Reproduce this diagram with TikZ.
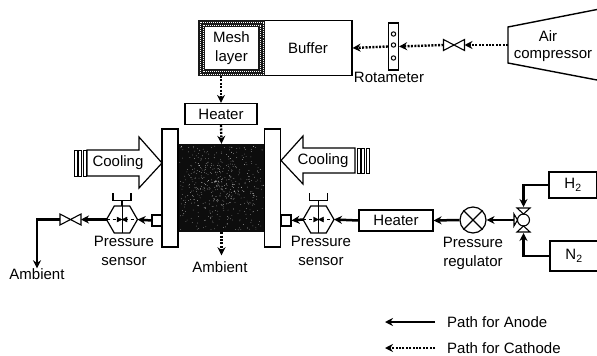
\documentclass[tikz,border=0pt]{standalone}
\usepackage{fontspec}
\setmainfont{Liberation Sans}
\usepackage{xcolor}
\usepackage{tikz}
\usetikzlibrary{positioning,arrows.meta,shapes.geometric,calc}

\begin{document}
\begin{tikzpicture}[
  x=1pt, y=-1pt,
  every node/.style={font=\fontsize{15}{19}\selectfont},
  unit/.style={rectangle, draw, line width=1.2pt, fill=white, inner sep=0pt},
  lbl/.style={inner sep=0pt, align=center},
  plate/.style={unit, minimum width=16pt, minimum height=118pt},
  stub/.style={unit, minimum width=10pt, minimum height=11pt},
  valve/.style={minimum width=21pt, minimum height=11pt, inner sep=0pt, outer sep=0pt},
  psensor/.style={regular polygon, regular polygon sides=6, draw, line width=1.2pt,
                  minimum size=31pt, inner sep=0pt, outer sep=0pt},
  anode/.style={-{Stealth[length=8pt,width=8pt]}, line width=2.5pt},
  cathode/.style={-{Stealth[length=8pt,width=8pt]}, line width=2.4pt, dash pattern=on 2pt off 1.4pt}
]
\useasboundingbox (0,0) rectangle (597,356);

% cathode side
\node[unit, minimum width=88pt, minimum height=55pt] (buffer) at (308,48) {Buffer};
\node[unit, draw=black!90, line width=7pt, minimum width=60pt, minimum height=49pt, align=center] (mesh) at (231.5,48) {Mesh\\layer};
\draw[white, line width=.4pt, dash pattern=on .5pt off 1.5pt] (199.8,21.8) rectangle (263.2,74.2);
\draw[white, line width=.4pt, dash pattern=on .5pt off 1.5pt] (202.8,24.8) rectangle (260.2,71.2);
\node[unit, minimum width=10pt, minimum height=47pt] (rota) at (393.5,46.5) {};
\foreach \y in {34,45,58} {
  \draw[line width=1pt, fill=white] (393.5,\y) circle (2.2);
}
\node[lbl] at (389,77) {Rotameter};
\node[valve] (v1) at (454,45) {};
\coordinate (aircomp) at (508,45);
\draw[line width=1.4pt] (597,9.5) -- (508,27) -- (508,63) -- (597,80);
\node[lbl] at (548,36) {Air};
\node[lbl] at (553,56) {compressor};
\node[unit, minimum width=72pt, minimum height=21pt] (heat1) at (221,114) {Heater};

% stack
\node[rectangle, fill=black!95, minimum width=87pt, minimum height=88pt, inner sep=0pt] (stack) at (221.5,188) {};
\pgfmathsetseed{11}
\foreach \i in {1,...,260} {
  \fill[white] ({180+83*rnd},{146+84*rnd}) circle (.3);
}
\foreach \i in {1,...,260} {
  \fill[white] ({178+87*(rnd+rnd)/2},{144+88*(rnd+rnd)/2}) circle (.3);
}
\node[plate] (platel) at (170,188) {};
\node[plate] (plater) at (272.5,188) {};
\node[lbl] (amb2) at (220,267) {Ambient};

% cooling
\draw[line width=1.2pt, fill=white] (87,150) -- (139,150) -- (139,137) -- (162,163) -- (139,188) -- (139,176) -- (87,176) -- cycle;
\node[lbl] at (118,163) {Cooling};
\draw[line width=1.2pt, fill=white] (355,148) -- (303,148) -- (303,136) -- (281,160.5) -- (303,184) -- (303,173) -- (355,173) -- cycle;
\node[lbl] at (323,161) {Cooling};
\foreach \x in {74,78.5,83} {
  \draw[line width=1pt] (\x,150) rectangle ++(3.4,26);
}
\foreach \x in {357,361.5,366} {
  \draw[line width=1pt] (\x,148) rectangle ++(3.4,25);
}

% anode side
\node[stub] (stubl) at (157,220.5) {};
\node[stub] (stubr) at (286,220.5) {};
\node[psensor] (psl) at (122,219.5) {};
\node[psensor] (psr) at (318.5,219.5) {};
\foreach \n in {psl,psr} {
  \draw[line width=.6pt, dashed] (\n.west) -- (\n.east);
  \draw[line width=.8pt] (\n.north) -- (\n.south);
  \draw[fill=black] ($(\n.center)+(-5,-2.5)$) -- ($(\n.center)+(5,2.5)$) -- ($(\n.center)+(5,-2.5)$) -- ($(\n.center)+(-5,2.5)$) -- cycle;
  \draw[line width=1.1pt] (\n.north) -- ++(0,-6) -- ++(-9,0) -- ++(0,-7);
  \draw[line width=1.1pt] (\n.north) ++(0,-6) -- ++(9,0) -- ++(0,-7);
}
\node[lbl] at (124,250.5) {Pressure\\sensor};
\node[lbl] at (321,250.5) {Pressure\\sensor};
\node[valve] (v2) at (70.5,219.5) {};
\node[lbl] (amb1) at (37,274) {Ambient};
\foreach \v in {v1,v2} {
  \draw[line width=1.1pt, fill=white] (\v.north west) -- (\v.south east) -- (\v.north east) -- (\v.south west) -- cycle;
}
\node[unit, minimum width=74pt, minimum height=21pt] (heat2) at (396,220.5) {Heater};
\node[circle, draw, line width=1.2pt, minimum size=26pt, inner sep=0pt] (reg) at (473,220) {};
\draw[line width=1.2pt] (reg.north west) -- (reg.south east) (reg.north east) -- (reg.south west);
\node[lbl] at (473,253.5) {Pressure\\regulator};
\node[circle, draw, line width=1.1pt, minimum size=12pt, inner sep=0pt] (tway) at (523.5,220) {};
\draw[line width=1.1pt, fill=white] (517,208) -- (530,208) -- (523.5,214) -- cycle;
\draw[line width=1.1pt, fill=white] (517,232) -- (530,232) -- (523.5,226) -- cycle;
\draw[line width=1.1pt, fill=white] (514,214) -- (514,226) -- (517.5,220) -- cycle;
\coordinate (twayt) at (523.5,207);
\coordinate (twayb) at (523.5,233);
\coordinate (twayl) at (514,220);
\node[unit, minimum width=48pt, minimum height=26pt] (htwo) at (573,185) {H\textsubscript{2}};
\node[unit, minimum width=48pt, minimum height=30pt] (ntwo) at (574,256) {N\textsubscript{2}};

% legend
\node[lbl, anchor=west] (leganode) at (447,322) {Path for Anode};
\node[lbl, anchor=west] (legcath) at (447,348) {Path for Cathode};
\coordinate (tipa) at (385,322);
\coordinate (tipc) at (385,348);

% paths
\foreach \i/\j in {aircomp/v1.east, v1.west/rota.east, rota.west/buffer.east, heat1.south/stack.north} {
  \draw[cathode] (\i) -- (\j);
}
\draw[cathode] (heat1.north |- mesh.south) -- (heat1.north);
\draw[cathode, shorten >=6pt] (stack.south) -- (stack.south |- amb2.north);
\foreach \i/\j in {heat2.west/psr.east, psr.west/stubr.east, stubl.west/psl.east, psl.west/v2.east, reg.west/heat2.east, twayl/reg.east} {
  \draw[anode] (\i) -- (\j);
}
\draw[anode] (v2.west) -| (amb1.north);
\draw[anode] (htwo.west) -| (twayt);
\draw[anode] (ntwo.west) -| (twayb);
\draw[anode] ([xshift=-12pt]leganode.west) -- (tipa);
\draw[cathode] ([xshift=-12pt]legcath.west) -- (tipc);

\end{tikzpicture}
\end{document}
